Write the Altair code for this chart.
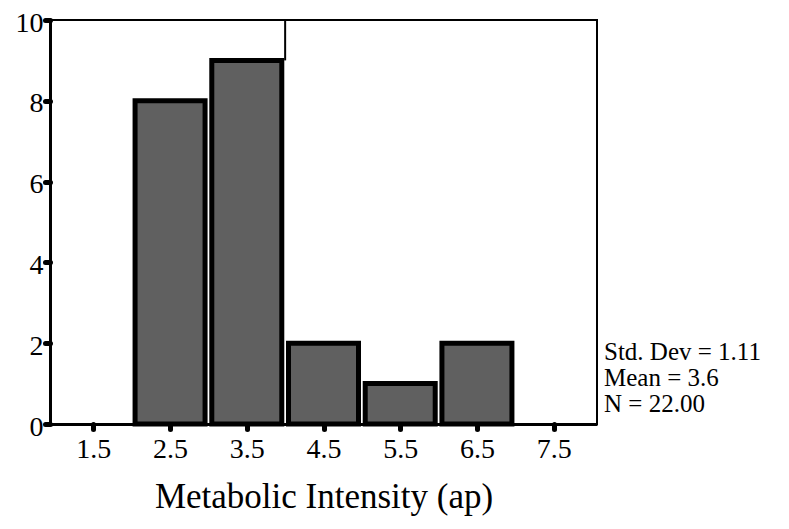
import altair as alt
import pandas as pd

# Histogram bins (midpoints) and counts
bin_mid = [2.5, 3.5, 4.5, 5.5, 6.5]
counts = [8, 9, 2, 1, 2]
x_ticks = [1.5, 2.5, 3.5, 4.5, 5.5, 6.5, 7.5]
y_ticks = [0, 2, 4, 6, 8, 10]
stats_lines = ["Std. Dev = 1.11", "Mean = 3.6", "N = 22.00"]

# stray vertical line seen in the scan (x position, from, to)
rule_x = [4.0]
rule_y = [9.0]
rule_y2 = [10.0]

df = pd.DataFrame({"mid": bin_mid, "count": counts})
df_rule = pd.DataFrame({"x": rule_x, "y": rule_y, "y2": rule_y2})

FONT = "Liberation Serif"

xscale = alt.Scale(domain=[1, 8], nice=False, zero=False)
yscale = alt.Scale(domain=[0, 10], nice=False)

bars = alt.Chart(df).mark_bar(
    size=70, color="#606060", stroke="black", strokeWidth=5
).encode(
    x=alt.X("mid:Q", scale=xscale,
            axis=alt.Axis(values=x_ticks, format=".1f", title="Metabolic Intensity (ap)",
                          grid=False, domainColor="black", domainWidth=3,
                          tickColor="black", tickSize=5, tickWidth=5, tickCap="round",
                          labelFont=FONT, labelFontSize=28, labelColor="black",
                          labelPadding=6, labelFlush=False,
                          titleFont=FONT, titleFontSize=35, titleFontWeight="normal",
                          titleColor="black", titlePadding=16)),
    y=alt.Y("count:Q", scale=yscale,
            axis=alt.Axis(values=y_ticks, title=None, grid=False,
                          domainColor="black", domainWidth=3,
                          tickColor="black", tickSize=5, tickWidth=5, tickCap="round",
                          labelFont=FONT, labelFontSize=28, labelColor="black",
                          labelPadding=2, labelOffset=3, labelFlush=False)),
)

rule = alt.Chart(df_rule).mark_rule(color="black", strokeWidth=2).encode(
    x=alt.X("x:Q", scale=xscale),
    y=alt.Y("y:Q", scale=yscale),
    y2="y2:Q",
)

layers = [bars, rule]
line_y = [352, 378, 404]
for txt, ly in zip(stats_lines, line_y):
    layers.append(
        alt.Chart(pd.DataFrame({"text": [txt]})).mark_text(
            font=FONT, fontSize=25, align="left", baseline="middle",
            color="black", clip=False
        ).encode(x=alt.value(554), y=alt.value(ly - 20), text="text:N")
    )

chart = alt.layer(*layers).properties(
    width=547, height=404,
    autosize=alt.AutoSizeParams(type="none"),
    padding={"left": 42, "top": 12, "right": 184, "bottom": 97},
).configure(background="white").configure_view(stroke="black", strokeWidth=2)

chart.save("out.html", embed_options={"renderer": "svg", "actions": False})
